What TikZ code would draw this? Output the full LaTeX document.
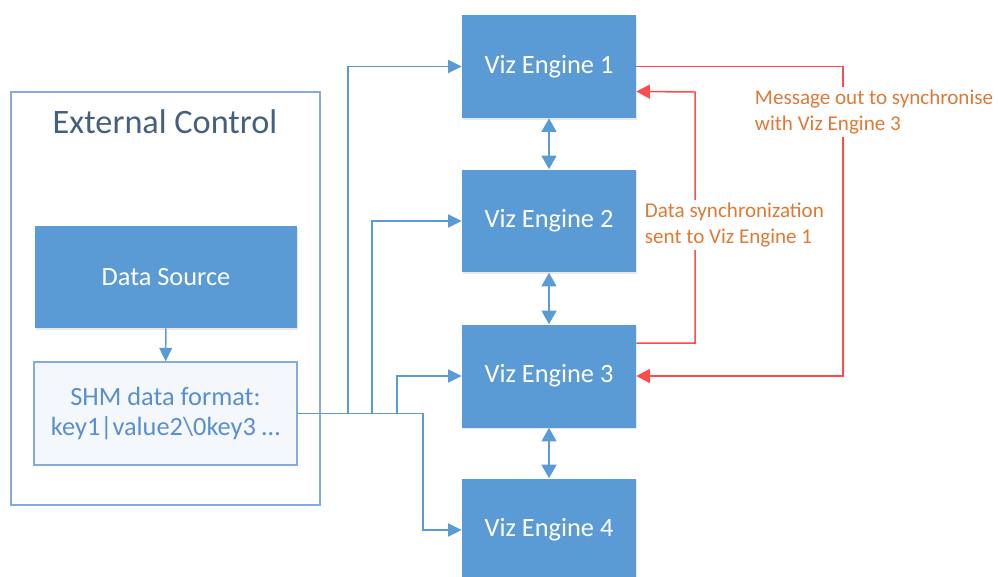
\documentclass[tikz,border=0pt]{standalone}
\usepackage{fontspec}
\setmainfont{Carlito}
\definecolor{vizblue}{HTML}{5B9BD5}
\definecolor{vizframe}{HTML}{86ABD8}
\definecolor{viztitle}{HTML}{44607F}
\definecolor{shmtext}{HTML}{5A8FCF}
\definecolor{shmfill}{HTML}{F4F7FC}
\definecolor{syncred}{HTML}{FF4B4B}
\definecolor{syncorange}{HTML}{DF7A36}
\usetikzlibrary{arrows.meta,positioning,shadows}
\tikzset{
    engine/.style={
        fill=vizblue,
        draw=none,
        minimum width=3.48cm,
        minimum height=2.06cm,
        text=white,
        font=\fontsize{15}{18}\selectfont,
        drop shadow={opacity=0.18,shadow xshift=0.5pt,shadow yshift=-0.9pt}
    },
    sourcebox/.style={
        engine,
        minimum width=5.24cm,
        minimum height=2.04cm
    },
    shmbox/.style={
        draw=vizframe,
        fill=shmfill,
        line width=0.8pt,
        minimum width=5.26cm,
        minimum height=2.06cm,
        align=center,
        text=shmtext,
        font=\fontsize{15}{17.5}\selectfont
    },
    controlframe/.style={
        draw=vizframe,
        line width=0.9pt,
        minimum width=6.18cm,
        minimum height=8.26cm
    },
    feedarrow/.style={
        -{Triangle[length=2.7mm,width=2.6mm]},
        draw=vizblue,
        line width=0.85pt
    },
    linkarrow/.style={
        {Triangle[length=2.7mm,width=3mm]}-{Triangle[length=2.7mm,width=3mm]},
        draw=vizblue,
        line width=0.85pt
    },
    syncarrow/.style={
        -{Triangle[length=2.7mm,width=2.8mm]},
        draw=syncred,
        line width=0.85pt
    },
    synclabel/.style={
        fill=white,
        inner sep=1.5pt,
        align=left,
        text=syncorange,
        font=\fontsize{12}{15}\selectfont
    }
}

\begin{document}
\begin{tikzpicture}[x=0.02cm,y=-0.02cm]
    \useasboundingbox (0,0) rectangle (998,576);

    \node[controlframe] (control) at (165.5,298.5) {};
    \node[text=viztitle,font=\fontsize{19.5}{23}\selectfont] (title) at (165,122)
        {External Control};
    \node[sourcebox] (source) at (166,277) {Data Source};
    \node[shmbox] (shm) at (165.5,413.5)
        {SHM data format:\\key1|value2\textbackslash 0key3 \dots};

    \node[engine] (engine1) at (549,66.5) {Viz Engine 1};
    \node[engine] (engine2) at (549,221) {Viz Engine 2};
    \node[engine] (engine3) at (549,376) {Viz Engine 3};
    \node[engine] (engine4) at (549,530) {Viz Engine 4};

    \coordinate (tap1) at (348,0);
    \coordinate (tap2) at (372,0);
    \coordinate (tap3) at (397,0);
    \coordinate (tap4) at (423,0);
    \coordinate (loopout) at (843,0);
    \coordinate (loopin) at (695,0);

    \draw[feedarrow] (source) -- (shm);
    \draw[feedarrow] (shm.east) -| (tap1 |- engine1) -- (engine1.west);
    \draw[feedarrow] (shm.east) -| (tap2 |- engine2) -- (engine2.west);
    \draw[feedarrow] (shm.east) -| (tap3 |- engine3) -- (engine3.west);
    \draw[feedarrow] (shm.east) -| (tap4 |- engine4) -- (engine4.west);

    \draw[linkarrow] (engine1.south) -- (engine2.north);
    \draw[linkarrow] (engine2.south) -- (engine3.north);
    \draw[linkarrow] (engine3.south) -- (engine4.north);

    \draw[syncarrow] (engine1.east) -| (loopout |- engine3) -- (engine3.east);
    \draw[syncarrow] ([yshift=0.66cm]engine3.east) -| (loopin |- 0,92)
        -- ([yshift=-0.5cm]engine1.east);

    \node[synclabel,anchor=west] (msgout) at (752,112)
        {Message out to synchronise\\with Viz Engine 3};
    \node[synclabel,anchor=west] (datasync) at (642,225)
        {Data synchronization\\sent to Viz Engine 1};
\end{tikzpicture}
\end{document}
